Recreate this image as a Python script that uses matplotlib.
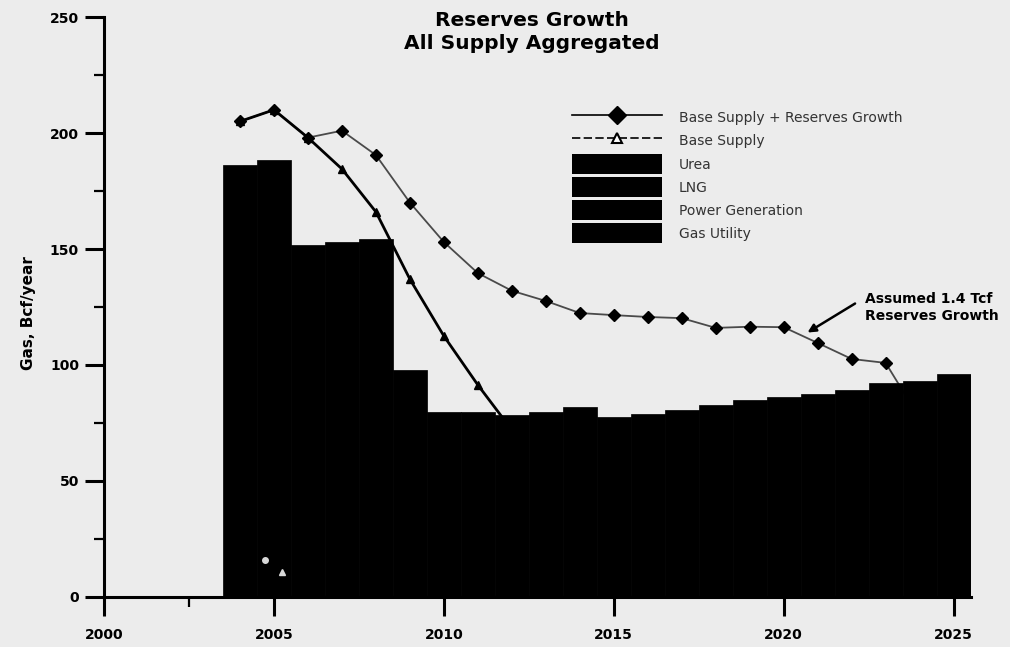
import matplotlib
matplotlib.use('Agg')
import matplotlib.pyplot as plt
from matplotlib.lines import Line2D
from matplotlib.patches import Patch

# --- data ---
years = list(range(2004, 2026))
total_demand = [186, 188.4, 151.7, 153, 154.3, 97.8, 79.7, 79.7, 78.4, 79.7, 82,
                77.6, 78.9, 80.6, 82.8, 84.9, 86.4, 87.6, 89.4, 92.4, 93, 96]

rg_years = list(range(2004, 2025))
base_plus_rg = [205, 210, 198, 201, 190.5, 170, 153, 139.6, 132, 127.6, 122.4,
                121.5, 120.7, 120.2, 116, 116.5, 116.3, 109.5, 102.6, 100.9, 77]

base_years = list(range(2004, 2013))
base_supply = [205, 210, 198, 184.5, 166, 137, 112.5, 91.4, 72]

# two pale specks near the bottom of the 2005 bar
speck_x = [2004.74, 2005.24]
speck_y = [16, 10.8]

legend_labels = ['Base Supply + Reserves Growth', 'Base Supply',
                 'Urea', 'LNG', 'Power Generation', 'Gas Utility']

bg = '#ececec'
fig = plt.figure(figsize=(10.1, 6.47), dpi=100, facecolor=bg)
ax = fig.add_axes([0.103, 0.0773, 0.858, 0.8964], facecolor=bg)

# lines first, bars on top (the lines disappear behind the bars)
ax.plot(rg_years, base_plus_rg, color='#4a4a4a', lw=1.3, marker='D',
        markersize=6, markerfacecolor='black', markeredgecolor='black', zorder=2)
ax.plot(base_years, base_supply, color='black', lw=2, marker='^',
        markersize=5.5, markerfacecolor='black', markeredgecolor='black', zorder=3)
ax.bar(years, total_demand, width=1.0, color='black', edgecolor='black',
       linewidth=0.5, zorder=4)
ax.plot(speck_x[:1], speck_y[:1], 'o', color='#d8d8d8', markersize=4, zorder=5)
ax.plot(speck_x[1:], speck_y[1:], '^', color='#d8d8d8', markersize=4, zorder=5)

ax.set_xlim(2000, 2025.5)
ax.set_ylim(0, 250)
ax.set_xticks([2000, 2005, 2010, 2015, 2020, 2025])
ax.set_xticks([2002.5], minor=True)
ax.set_yticks([0, 50, 100, 150, 200, 250])
ax.set_yticks([25, 75, 125, 175, 225], minor=True)

for s in ['top', 'right']:
    ax.spines[s].set_visible(False)
for s in ['left', 'bottom']:
    ax.spines[s].set_linewidth(2.2)
ax.tick_params(axis='both', which='major', length=14, width=2.2, direction='out')
ax.tick_params(axis='x', which='major', pad=8)
ax.tick_params(axis='y', which='major', pad=4)
ax.tick_params(axis='both', which='minor', length=7, width=1.6, direction='out')
for lab in ax.get_xticklabels() + ax.get_yticklabels():
    lab.set_fontweight('bold')
    lab.set_fontsize(10)

ax.set_ylabel('Gas, Bcf/year', fontsize=11, fontweight='bold')
ax.yaxis.set_label_coords(-0.078, 0.49)

fig.text(0.527, 0.983, 'Reserves Growth\nAll Supply Aggregated', ha='center',
         va='top', fontsize=14.5, fontweight='bold', linespacing=1.28)

# legend
handles = [
    Line2D([], [], color='black', lw=1.2, marker='D', markersize=9,
           markerfacecolor='black'),
    Line2D([], [], color='black', lw=1.2, ls=(0, (5, 2)), marker='^', markersize=7,
           markerfacecolor='white', markeredgecolor='black', markeredgewidth=1.5),
    Patch(facecolor='black'), Patch(facecolor='black'),
    Patch(facecolor='black'), Patch(facecolor='black'),
]
fig.legend(handles, legend_labels, loc='upper left',
           bbox_to_anchor=(572 / 1010, 1 - 108 / 647), frameon=False,
           fontsize=10, handlelength=6.48, handleheight=1.84, labelspacing=0.216,
           handletextpad=1.22, borderpad=0, borderaxespad=0,
           labelcolor='#333333')

ax.annotate('', xy=(2020.7, 114), xytext=(2022.1, 126.5),
            arrowprops=dict(arrowstyle='-|>', color='black', lw=1.8,
                            mutation_scale=12, shrinkA=0, shrinkB=0))
ax.text(2022.4, 124.8, 'Assumed 1.4 Tcf\nReserves Growth', fontsize=10,
        fontweight='bold', ha='left', va='center', linespacing=1.35)

fig.savefig('out.png', dpi=100, facecolor=bg)
